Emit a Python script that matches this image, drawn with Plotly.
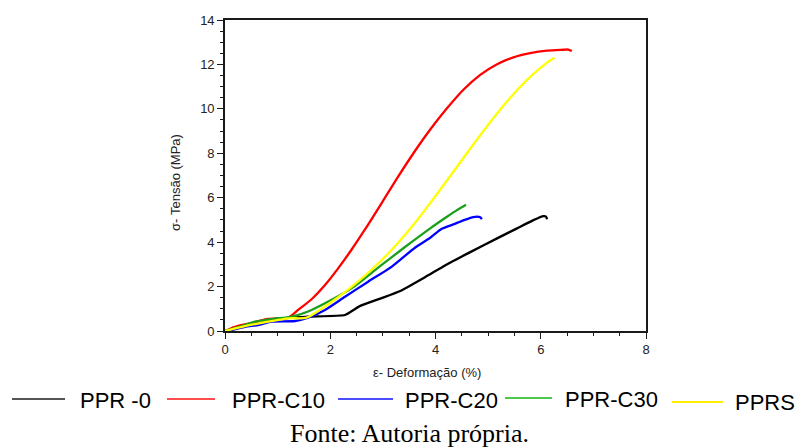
import plotly.graph_objects as go

# Stress-strain curves (strain in %, stress in MPa)
ppr0_x = [0, 0.32, 0.63, 0.95, 1.58, 2.28, 2.57, 3.00, 3.33, 3.80, 4.18, 4.66, 5.17, 5.55, 5.86, 6.05, 6.10, 6.12]
ppr0_y = [0, 0.19, 0.37, 0.54, 0.65, 0.72, 1.13, 1.50, 1.80, 2.42, 2.95, 3.55, 4.17, 4.62, 4.99, 5.17, 5.15, 5.03]

c10_x = [0, 0.19, 0.50, 0.82, 1.20, 1.39, 1.65, 1.90, 2.15, 2.41, 2.66, 2.98, 3.29, 3.60, 3.90, 4.21,
         4.53, 4.85, 5.17, 5.48, 5.80, 6.12, 6.43, 6.52, 6.59]
c10_y = [0, 0.19, 0.36, 0.54, 0.60, 0.95, 1.44, 2.07, 2.82, 3.68, 4.57, 5.77, 6.95, 8.07, 9.07, 10.00,
         10.86, 11.53, 12.01, 12.32, 12.51, 12.62, 12.66, 12.67, 12.60]

c20_x = [0.06, 0.38, 0.63, 0.89, 1.33, 1.58, 1.90, 2.28, 2.72, 3.17, 3.61, 3.90, 4.12, 4.34, 4.53, 4.72, 4.85, 4.88]
c20_y = [0, 0.19, 0.27, 0.42, 0.45, 0.60, 0.95, 1.54, 2.22, 2.90, 3.75, 4.20, 4.60, 4.80, 4.98, 5.13, 5.12, 5.03]

c30_x = [0, 0.25, 0.57, 0.89, 1.27, 1.58, 1.90, 2.41, 2.91, 3.42, 3.90, 4.21, 4.40, 4.58]
c30_y = [0, 0.17, 0.42, 0.54, 0.65, 0.88, 1.25, 1.93, 2.85, 3.78, 4.62, 5.13, 5.43, 5.68]

pprs_x = [0, 0.32, 0.82, 1.20, 1.55, 1.84, 2.15, 2.47, 2.79, 3.17, 3.55, 3.90, 4.21, 4.53, 4.85, 5.17,
          5.48, 5.80, 6.12, 6.26]
pprs_y = [0, 0.19, 0.42, 0.57, 0.60, 1.01, 1.52, 2.11, 2.77, 3.66, 4.69, 5.76, 6.75, 7.79, 8.81, 9.79,
          10.66, 11.44, 12.08, 12.30]

names = ["PPR -0", "PPR-C10", "PPR-C20", "PPR-C30", "PPRS"]
colors = ["#000000", "#ff0000", "#0000ff", "#1a9f1a", "#ffff00"]
legend_colors = ["#555555", "#ff4c4c", "#4c4cff", "#4cc84c", "#ffee00"]
smooth = [0.4, 0.8, 0.7, 0.7, 0.8]
series = [(ppr0_x, ppr0_y), (c10_x, c10_y), (c20_x, c20_y), (c30_x, c30_y), (pprs_x, pprs_y)]

W, H = 795, 448
L, R, T, B = 225, 149, 20, 117
pw, ph = W - L - R, H - T - B

def px(x):
    return (x - L) / pw

def py(y):
    return (H - B - y) / ph

fig = go.Figure()
for (xs, ys), name, col, sm in zip(series, names, colors, smooth):
    fig.add_trace(go.Scatter(x=xs, y=ys, mode="lines", name=name,
                             line=dict(color=col, width=2.3, shape="spline", smoothing=sm),
                             showlegend=False))

axis_common = dict(showline=True, linecolor="#1a1a1a", linewidth=1.6, mirror=True,
                   ticks="outside", ticklen=6, tickwidth=1, tickcolor="#1a1a1a",
                   showgrid=False, zeroline=False,
                   tickfont=dict(family="Arial, Liberation Sans", size=13, color="#222222"),
                   minor=dict(ticks="outside", ticklen=3, tickwidth=1, tickcolor="#1a1a1a"))

fig.update_xaxes(range=[0, 8], dtick=2, **axis_common)
fig.update_yaxes(range=[0, 14], dtick=2, **axis_common)

annotations = []
shapes = []

# Axis titles
annotations.append(dict(text="ε- Deformação (%)", xref="paper", yref="paper", x=px(427), y=py(372),
                        xanchor="center", yanchor="middle", showarrow=False,
                        font=dict(family="Arial, Liberation Sans", size=13, color="#222222")))
annotations.append(dict(text="σ- Tensão (MPa)", xref="paper", yref="paper", x=px(175), y=py(183),
                        xanchor="center", yanchor="middle", showarrow=False, textangle=-90,
                        font=dict(family="Arial, Liberation Sans", size=13, color="#222222")))

# Legend row below the axes: (line start, line end, text start, row y)
legend_items = [(12, 65, 78, 399), (167, 215, 230, 399), (338, 393, 403, 399),
                (505, 552, 563, 398), (672, 723, 733, 402)]
for (x0, x1, tx, yy), name, col in zip(legend_items, names, legend_colors):
    shapes.append(dict(type="line", xref="paper", yref="paper",
                       x0=px(x0), x1=px(x1), y0=py(yy), y1=py(yy),
                       line=dict(color=col, width=2)))
    annotations.append(dict(text=name, xref="paper", yref="paper", x=px(tx), y=py(yy + 1),
                            xanchor="left", yanchor="middle", showarrow=False,
                            font=dict(family="Arial, Liberation Sans", size=22, color="#000000")))

annotations.append(dict(text="Fonte: Autoria própria.", xref="paper", yref="paper",
                        x=px(409), y=py(433), xanchor="center", yanchor="middle", showarrow=False,
                        font=dict(family="Liberation Serif, Times New Roman", size=26, color="#000000")))

fig.update_layout(width=W, height=H, margin=dict(l=L, r=R, t=T, b=B),
                  paper_bgcolor="#ffffff", plot_bgcolor="#ffffff",
                  shapes=shapes, annotations=annotations)

fig.write_html("out.html")
